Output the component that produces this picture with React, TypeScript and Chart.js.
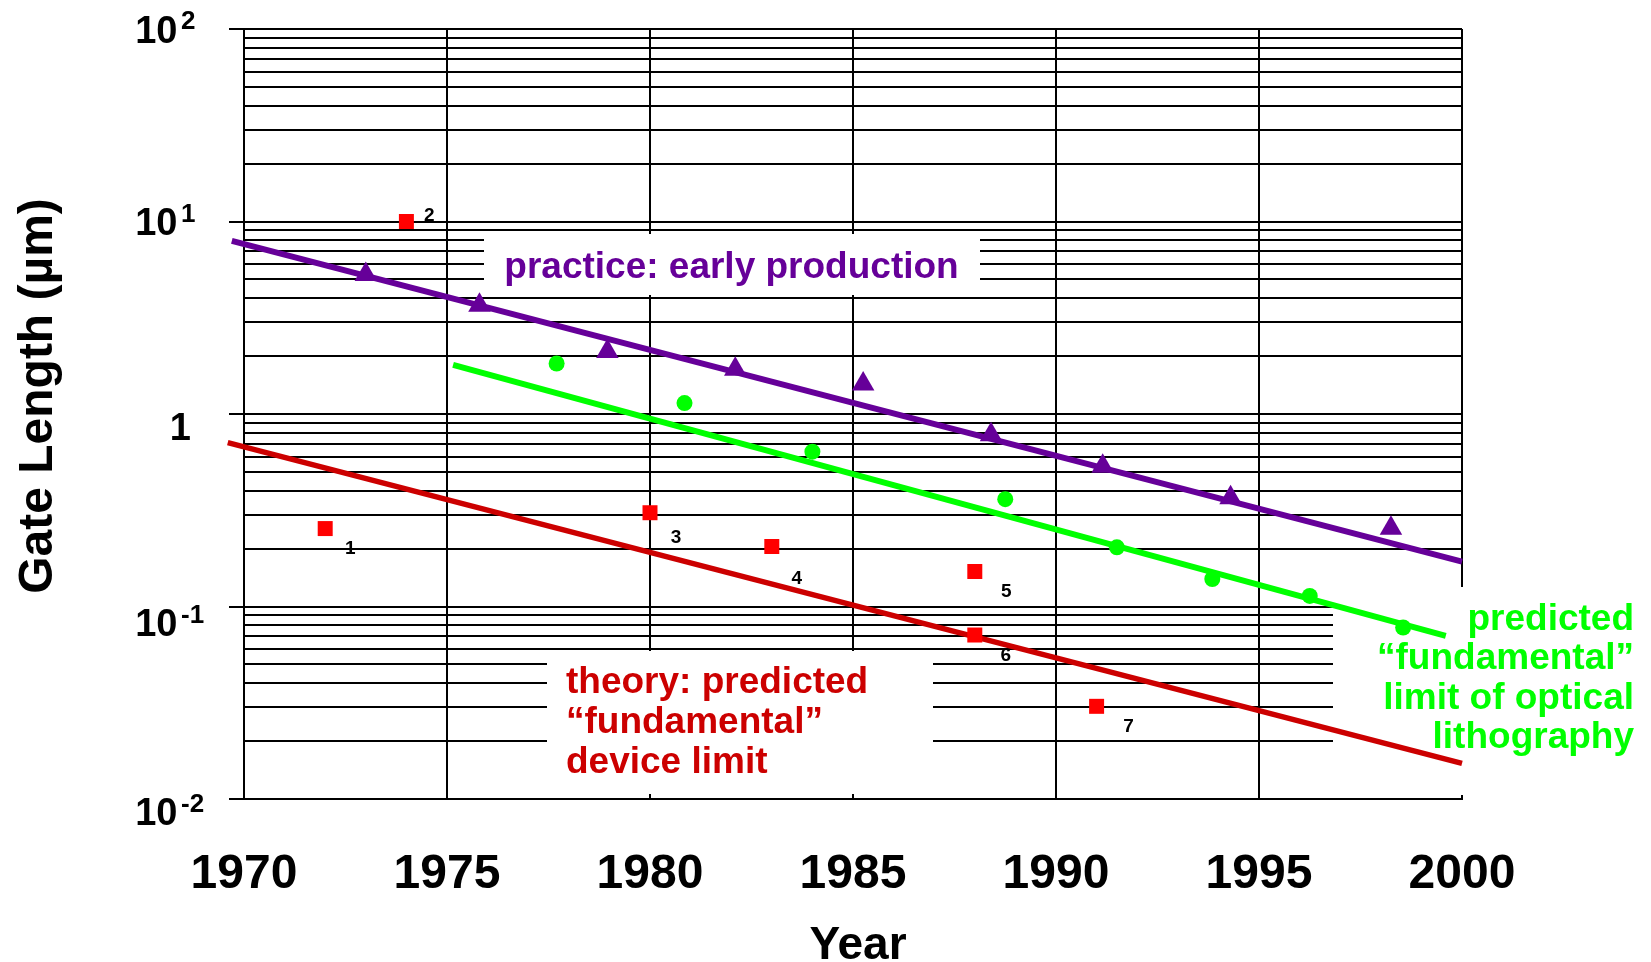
import React, { useEffect, useRef } from 'react';
import { Chart, registerables } from 'chart.js';

Chart.register(...registerables);

const FONT = '"Liberation Sans", Arial, Helvetica, sans-serif';

// ---- axes ----
const xMin = 1970;
const xMax = 2000;
const xStep = 5;
const xTickLabels = ['1970', '1975', '1980', '1985', '1990', '1995', '2000'];
const xTitle = 'Year';

const yMin = 0.01;
const yMax = 100;
const yDecades = [0.01, 0.1, 1, 10, 100];
const yDecadeBase = ['10', '10', '1', '10', '10'];
const yDecadeExp = ['-2', '-1', '', '1', '2'];
const yMinorMultipliers = [2, 3, 4, 5, 6, 7, 8, 9];
const yTitle = 'Gate Length (\u00b5m)';

// ---- practice: early production (triangles + trend) ----
const practiceYears = [1973.0, 1975.8, 1978.95, 1982.1, 1985.25, 1988.4, 1991.15, 1994.3, 1998.25];
const practiceGate = [5.3, 3.67, 2.11, 1.71, 1.43, 0.78, 0.535, 0.367, 0.255];
const practiceTrendYears = [1969.7, 2000];
const practiceTrendGate = [7.94, 0.171];

// ---- predicted limit of optical lithography (circles + trend) ----
const opticalYears = [1977.7, 1980.85, 1984.0, 1988.75, 1991.5, 1993.85, 1996.25, 1998.55];
const opticalGate = [1.83, 1.14, 0.637, 0.361, 0.203, 0.139, 0.1135, 0.0778];
const opticalTrendYears = [1975.15, 1999.6];
const opticalTrendGate = [1.8, 0.0703];

// ---- theory: predicted fundamental device limit (squares + trend) ----
const theoryYears = [1972, 1974, 1980, 1983, 1988, 1988, 1991];
const theoryGate = [0.254, 10, 0.307, 0.205, 0.152, 0.0711, 0.0303];
const theoryRefs = ['1', '2', '3', '4', '5', '6', '7'];
const theoryTrendYears = [1969.6, 2000];
const theoryTrendGate = [0.71, 0.0153];

// ---- annotation texts ----
const practiceText = ['practice: early production'];
const theoryText = ['theory: predicted', '\u201cfundamental\u201d', 'device limit'];
const opticalText = ['predicted', '\u201cfundamental\u201d', 'limit of optical', 'lithography'];

// ---- styles (pixel layout, not data) ----
const PURPLE = '#660099';
const GREEN = '#00ff00';
const DARKRED = '#cc0000';
const RED = '#ff0000';

const refLabelOffsets = [
  [25, 18],
  [23, -8],
  [26, 23],
  [25, 30.5],
  [31.5, 18.5],
  [31, 18.5],
  [32, 18.5],
];
const yLabelShift = [12.7, 16, 12.5, 0, 0];

const whiteBoxes = [
  { x: 484, y: 234, w: 496, h: 61 },
  { x: 547, y: 651, w: 386, h: 143 },
  { x: 1333, y: 587, w: 318, h: 208 },
];

function toPts(xs: number[], ys: number[]) {
  return xs.map((x, i) => ({ x, y: ys[i] }));
}

function isDecade(v: number) {
  return yDecades.some((d) => Math.abs(d - v) / d < 1e-6);
}

const yGridValues: number[] = (() => {
  const out: number[] = [];
  for (let i = 0; i < yDecades.length; i++) {
    out.push(yDecades[i]);
    if (i < yDecades.length - 1) {
      yMinorMultipliers.forEach((m) => out.push(+(yDecades[i] * m).toPrecision(6)));
    }
  }
  return out;
})();

const annotationPlugin = {
  id: 'gateAnnotations',
  beforeDatasetsDraw(chart: any) {
    const { ctx } = chart;
    const xs = chart.scales.x;
    const ys = chart.scales.y;
    ctx.save();
    ctx.fillStyle = '#ffffff';
    whiteBoxes.forEach((b) => ctx.fillRect(b.x, b.y, b.w, b.h));
    ctx.fillStyle = '#000000';
    ctx.font = `bold 19px ${FONT}`;
    ctx.textAlign = 'center';
    ctx.textBaseline = 'alphabetic';
    theoryRefs.forEach((r, i) => {
      const px = xs.getPixelForValue(theoryYears[i]);
      const py = ys.getPixelForValue(theoryGate[i]);
      const [dx, dy] = refLabelOffsets[i];
      ctx.fillText(r, px + dx, py + dy + 7);
    });
    ctx.restore();
  },
  afterDatasetsDraw(chart: any) {
    const { ctx } = chart;
    ctx.save();
    ctx.textBaseline = 'alphabetic';
    ctx.font = `bold 37px ${FONT}`;
    // practice label
    ctx.fillStyle = PURPLE;
    ctx.textAlign = 'center';
    ctx.fillText(practiceText[0], 731.5, 278);
    // theory label
    ctx.fillStyle = DARKRED;
    ctx.textAlign = 'left';
    theoryText.forEach((t, i) => ctx.fillText(t, 566, 692.7 + i * 40.3));
    // optical label
    ctx.fillStyle = GREEN;
    ctx.textAlign = 'right';
    opticalText.forEach((t, i) => ctx.fillText(t, 1634, 630 + i * 39.3));
    ctx.restore();
  },
  afterDraw(chart: any) {
    const { ctx, chartArea } = chart;
    const xs = chart.scales.x;
    const ys = chart.scales.y;
    ctx.save();
    ctx.fillStyle = '#000000';
    ctx.textBaseline = 'alphabetic';
    // y decade labels with superscripts
    yDecades.forEach((v, i) => {
      const c = ys.getPixelForValue(v) + yLabelShift[i];
      ctx.font = `bold 38px ${FONT}`;
      ctx.textAlign = 'right';
      if (yDecadeExp[i]) {
        ctx.fillText(yDecadeBase[i], chartArea.left - 66.5, c + 13.7);
        ctx.font = `bold 26px ${FONT}`;
        ctx.textAlign = 'left';
        ctx.fillText(yDecadeExp[i], chartArea.left - 63, c);
      } else {
        ctx.fillText(yDecadeBase[i], chartArea.left - 53, c + 13.7);
      }
    });
    // x tick labels
    ctx.font = `bold 48px ${FONT}`;
    ctx.textAlign = 'center';
    xTickLabels.forEach((t, i) => {
      ctx.fillText(t, xs.getPixelForValue(xMin + i * xStep), chartArea.bottom + 89);
    });
    // x title
    ctx.font = `bold 46px ${FONT}`;
    ctx.fillText(xTitle, 858, 959);
    // y title
    ctx.save();
    ctx.translate(52, 396);
    ctx.rotate(-Math.PI / 2);
    ctx.font = `bold 48px ${FONT}`;
    ctx.textAlign = 'center';
    ctx.fillText(yTitle, 0, 0);
    ctx.restore();
    ctx.restore();
  },
};

export default function App() {
  const canvasRef = useRef<HTMLCanvasElement | null>(null);

  useEffect(() => {
    if (!canvasRef.current) return;
    const lineDs = (label: string, xs: number[], ys: number[], color: string, width: number) => ({
      label,
      data: toPts(xs, ys),
      showLine: true,
      borderColor: color,
      borderWidth: width,
      pointRadius: 0,
      fill: false,
      clip: false as any,
      order: 2,
    });
    const markerDs = (label: string, xs: number[], ys: number[], color: string, style: string, r: number) => ({
      label,
      data: toPts(xs, ys),
      showLine: false,
      pointStyle: style,
      pointRadius: r,
      pointBackgroundColor: color,
      backgroundColor: color,
      pointBorderWidth: 0,
      borderWidth: 0,
      clip: false as any,
      order: 1,
    });

    const chart = new Chart(canvasRef.current, {
      type: 'scatter',
      data: {
        datasets: [
          lineDs('practice trend', practiceTrendYears, practiceTrendGate, PURPLE, 6),
          lineDs('optical trend', opticalTrendYears, opticalTrendGate, GREEN, 6),
          lineDs('theory trend', theoryTrendYears, theoryTrendGate, DARKRED, 5.5),
          markerDs('practice', practiceYears, practiceGate, PURPLE, 'triangle', 13),
          markerDs('optical', opticalYears, opticalGate, GREEN, 'circle', 8),
          markerDs('theory', theoryYears, theoryGate, RED, 'rect', 10.6),
        ] as any,
      },
      options: {
        animation: false,
        responsive: false,
        devicePixelRatio: 1,
        events: [],
        layout: { padding: { top: 29, right: 189, left: 0, bottom: 0 } },
        plugins: {
          legend: { display: false },
          tooltip: { enabled: false },
        },
        scales: {
          x: {
            type: 'linear',
            min: xMin,
            max: xMax,
            ticks: {
              stepSize: xStep,
              autoSkip: false,
              maxRotation: 0,
              font: { size: 1 },
              callback: () => '',
            },
            grid: { color: '#000000', lineWidth: 2, drawTicks: false },
            border: { color: '#000000', width: 2 },
            afterFit: (s: any) => {
              s.height = 163;
            },
          },
          y: {
            type: 'logarithmic',
            min: yMin,
            max: yMax,
            afterBuildTicks: (s: any) => {
              s.ticks = yGridValues.map((v) => ({ value: v, major: false }));
            },
            ticks: {
              autoSkip: false,
              font: { size: 1 },
              callback: () => '',
            },
            grid: {
              color: '#000000',
              lineWidth: 2,
              drawTicks: true,
              tickLength: 15,
              tickColor: (c: any) => (c.tick && isDecade(c.tick.value) ? '#000000' : 'rgba(0,0,0,0)'),
            },
            border: { color: '#000000', width: 2 },
            afterFit: (s: any) => {
              s.width = 244;
            },
          },
        },
      } as any,
      plugins: [annotationPlugin],
    });
    return () => chart.destroy();
  }, []);

  return (
    <div style={{ position: 'absolute', left: 0, top: 0, width: 1651, height: 962, background: '#ffffff' }}>
      <canvas ref={canvasRef} width={1651} height={962} style={{ display: 'block' }} />
    </div>
  );
}
